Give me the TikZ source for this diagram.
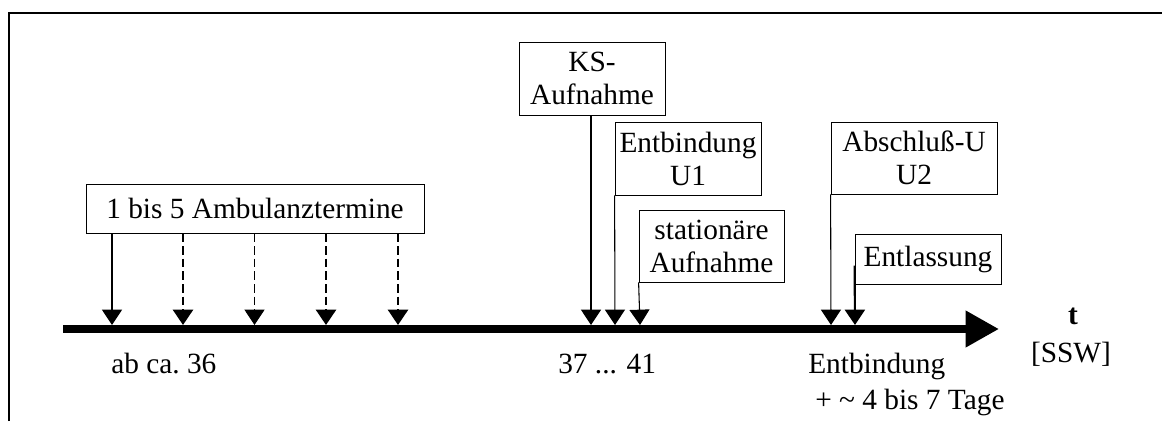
\documentclass[tikz,border=0pt]{standalone}
\usepackage{fontspec}
\setmainfont{Liberation Serif}
\usetikzlibrary{arrows.meta}

\tikzset{
  kasten/.style={draw, line width=0.6pt, align=center, inner sep=0pt},
  pfeil/.style={line width=0.8pt, -{Triangle[width=15pt,length=11.5pt]}},
  pfeildick/.style={pfeil, line width=1.9pt, dash pattern=on 6.5pt off 3pt},
  pfeildünn/.style={pfeil, dash pattern=on 6.5pt off 3pt},
  achse/.style={line width=6pt, -{Triangle[width=26pt,length=25pt]}},
  beschr/.style={anchor=base west, inner sep=0pt}
}

\begin{document}
\begin{tikzpicture}[x=0.75pt,y=0.75pt,yscale=-1,xscale=1,font=\fontsize{22}{24.75}\selectfont]
\useasboundingbox (0,0) rectangle (1162,421);

%Frame
\draw [line width=1.5pt] (9,421) -- (9,13) -- (1162,13) ;

%Axis
\coordinate (anfang) at (63,329);
\coordinate (ende) at (999,329);
\draw [achse] (anfang) -- (ende) ;

%Arrow tips on the axis
\coordinate (a1) at (112,325);
\coordinate (a2) at (183,325);
\coordinate (a3) at (254.5,325);
\coordinate (a4) at (326,325);
\coordinate (a5) at (398,325);
\coordinate (k1) at (591,325);
\coordinate (k2) at (615,325);
\coordinate (k3) at (640,325);
\coordinate (e1) at (831,325);
\coordinate (e2) at (855,325);

%Boxes
\node [kasten, minimum width=253.5pt, minimum height=36.75pt] (amb) at (255,208.5) {1 bis 5 Ambulanztermine};
\node [kasten, minimum width=109.5pt, minimum height=54.75pt] (ks) at (592,78.5) {KS-\\Aufnahme};
\node [kasten, minimum width=109.5pt, minimum height=54.75pt] (entb) at (688,158.5) {Entbindung\\U1};
\node [kasten, minimum width=108.75pt, minimum height=54pt] (stat) at (711.5,246) {stationäre\\Aufnahme};
\node [kasten, minimum width=124.5pt, minimum height=54pt] (abschl) at (914,158) {Abschluß-U\\U2};
\node [kasten, minimum width=109.5pt, minimum height=37.5pt] (entl) at (928,259) {Entlassung};

%Arrows
\draw [pfeil] (amb.south -| a1) -- (a1) ;
\draw [pfeildick] (amb.south -| a2) -- (a2) ;
\draw [pfeildünn] (amb.south -| a3) -- (a3) ;
\draw [pfeildick] (amb.south -| a4) -- (a4) ;
\draw [pfeildick] (amb.south -| a5) -- (a5) ;
\draw [pfeil] (ks.south -| k1) -- (k1) ;
\draw [pfeil] (entb.south west) -- (k2) ;
\draw [pfeil] (stat.south west) -- (k3) ;
\draw [pfeil] (abschl.south west) -- (e1) ;
\draw [pfeil, line width=1.6pt] ([yshift=5pt]entl.west) -- (e2) ;

% Text Node
\node [beschr] (ab) at (111,373) {ab ca.\ 36};
% Text Node
\node [beschr] (zeit) at (558,373) {37 ... 41};
% Text Node
\node [beschr] (entbt) at (808,373) {Entbindung};
% Text Node
\node [beschr] (tage) at (815,409) {+ \textasciitilde{} 4 bis 7 Tage};
% Text Node
\node [anchor=base, inner sep=0pt] (t) at (1073,324) {\textbf{t}};
% Text Node
\node [anchor=base, inner sep=0pt] (ssw) at (1071,362) {[SSW]};

\end{tikzpicture}
\end{document}
